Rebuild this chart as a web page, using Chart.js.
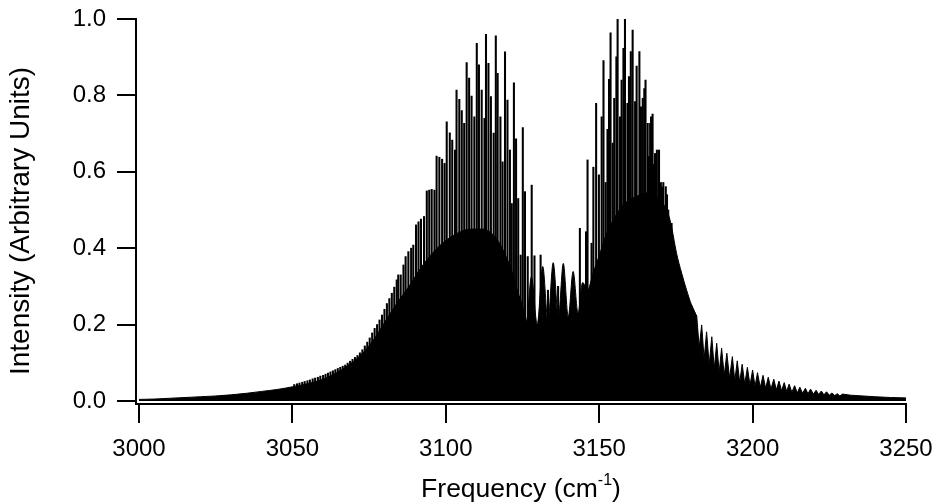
<!DOCTYPE html>
<html>
<head>
<meta charset="utf-8">
<script src="https://cdn.jsdelivr.net/npm/chart.js@4.4.1/dist/chart.umd.min.js"></script>
<style>
  html, body { margin: 0; padding: 0; background: #fff; }
</style>
</head>
<body>
<canvas id="spectrum" width="937" height="502"></canvas>
<script>
// --- Axis ticks ---
const xTicks = [3000, 3050, 3100, 3150, 3200, 3250];
const yTicks = [0.0, 0.2, 0.4, 0.6, 0.8, 1.0];

// --- Overlapped part of the band (solid black mass) ---
const massFreq = [3000, 3005, 3010, 3015, 3020, 3025, 3030, 3035, 3040, 3045, 3050, 3055, 3060, 3064, 3068, 3072, 3076, 3080, 3084, 3088,
  3092, 3096, 3100, 3104, 3108, 3112, 3116, 3119, 3121.5, 3123.5, 3125.0, 3126.3, 3127.9, 3129.8, 3131.6, 3133.3, 3135.0, 3136.7, 3138.3, 3139.9, 3141.5,
  3143.1, 3144.6, 3146.2, 3148.0, 3150.0, 3152.0, 3155.0, 3158.0, 3162.0, 3166.0, 3170.0, 3172.5, 3173.6, 3175.2, 3176.9, 3178.5, 3180.1, 3181.8];
const massInt = [0.004, 0.005, 0.007, 0.009, 0.011, 0.013, 0.016, 0.020, 0.025, 0.030, 0.037, 0.045, 0.057, 0.072, 0.092, 0.118, 0.155, 0.205, 0.255, 0.300,
  0.350, 0.390, 0.420, 0.440, 0.450, 0.450, 0.430, 0.390, 0.340, 0.285, 0.250, 0.210, 0.325, 0.200, 0.352, 0.210, 0.362, 0.220, 0.360, 0.220, 0.339,
  0.230, 0.310, 0.290, 0.335, 0.380, 0.430, 0.480, 0.515, 0.535, 0.545, 0.525, 0.490, 0.455, 0.387, 0.334, 0.290, 0.251, 0.221];

// --- Resolved lines of the high-frequency tail (peak / valley pairs) ---
const tailFreq = [3180.1, 3181.8, 3182.6, 3183.4, 3184.2, 3185.0, 3185.85, 3186.7, 3187.5, 3188.3, 3189.1, 3189.9, 3190.75, 3191.6, 3192.5, 3193.4, 3194.2,
  3195.0, 3195.8, 3196.6, 3197.45, 3198.3, 3199.15, 3200.0, 3200.8, 3201.6, 3202.5, 3203.4, 3204.25, 3205.1, 3206.0, 3206.9, 3207.75, 3208.6,
  3209.45, 3210.3, 3211.1, 3211.9, 3212.8, 3213.7, 3214.55, 3215.4, 3216.3, 3217.2, 3218.05, 3218.9, 3219.8, 3220.7, 3221.55, 3222.4, 3223.25,
  3224.1, 3225.0, 3225.9, 3226.75, 3227.6, 3228.45, 3229.3, 3232, 3236, 3240, 3245, 3250];
const tailInt = [0.251, 0.221, 0.140, 0.199, 0.110, 0.181, 0.095, 0.168, 0.085, 0.151, 0.075, 0.138, 0.067, 0.125, 0.060, 0.116, 0.053,
  0.105, 0.048, 0.096, 0.044, 0.088, 0.041, 0.081, 0.038, 0.074, 0.035, 0.067, 0.033, 0.062, 0.031, 0.057, 0.029, 0.052,
  0.027, 0.048, 0.025, 0.044, 0.023, 0.040, 0.021, 0.036, 0.020, 0.033, 0.019, 0.031, 0.018, 0.028, 0.017, 0.026, 0.016,
  0.024, 0.015, 0.021, 0.014, 0.019, 0.013, 0.018, 0.015, 0.013, 0.011, 0.009, 0.008];

// --- Individual rotational lines standing above the mass ---
const lineFreq = [
  3050.6, 3051.5, 3052.3, 3053.2, 3054.0, 3054.9,
  3055.7, 3056.6, 3057.4, 3058.3, 3059.1, 3060.0, 3060.8, 3061.6, 3062.4, 3063.2, 3064.0, 3064.8, 3065.6, 3066.4, 3067.2, 3068.0, 3068.8, 3069.6,
  3070.4, 3071.2, 3072.0, 3072.8, 3073.6, 3074.4, 3075.2, 3076.0, 3076.8, 3077.6, 3078.4, 3079.2, 3080.0, 3080.8, 3081.6, 3082.4, 3083.2,
  3084.0, 3084.5, 3085.3, 3086.2, 3086.9, 3087.8, 3088.7, 3089.4, 3090.3, 3091.1, 3091.9, 3092.9, 3093.8, 3094.6, 3095.4, 3096.3,
  3097.0, 3097.9, 3098.8, 3099.6, 3100.3, 3101.3, 3102.1, 3103.0, 3103.5, 3104.4, 3105.2, 3106.0, 3106.8, 3107.6, 3108.4, 3109.3,
  3110.1, 3110.8, 3111.7, 3112.6, 3113.1, 3113.9, 3114.7, 3115.6, 3116.3, 3116.9, 3117.8, 3118.5, 3119.3, 3120.1, 3120.9, 3121.5,
  3122.2, 3122.9, 3123.6, 3124.4, 3125.1, 3125.8, 3126.7, 3128.0, 3128.9, 3130.9, 3133.3, 3136.6,
  3143.7, 3145.7, 3146.2, 3147.5, 3148.1, 3149.0, 3149.9, 3150.8, 3151.4, 3152.1, 3152.7, 3153.2, 3153.7, 3154.4, 3154.9, 3155.6,
  3156.0, 3156.8, 3157.3, 3157.9, 3158.4, 3159.2, 3159.7, 3160.3, 3160.9, 3161.7, 3162.2, 3163.1, 3163.6, 3164.2, 3164.7, 3165.1,
  3165.8, 3166.2, 3166.6, 3166.9, 3167.4, 3167.8, 3168.2, 3168.8, 3169.5, 3170.1, 3170.5, 3170.9, 3171.7, 3172.1, 3172.5, 3173.6];
const lineInt = [
  0.043, 0.045, 0.047, 0.049, 0.051, 0.053,
  0.055, 0.058, 0.060, 0.062, 0.065, 0.067, 0.070, 0.073, 0.076, 0.079, 0.082, 0.085, 0.088, 0.091, 0.094, 0.099, 0.104, 0.109,
  0.114, 0.119, 0.126, 0.134, 0.144, 0.154, 0.165, 0.178, 0.190, 0.200, 0.212, 0.225, 0.240, 0.255, 0.268, 0.282, 0.298,
  0.317, 0.330, 0.330, 0.356, 0.378, 0.391, 0.400, 0.408, 0.461, 0.469, 0.476, 0.483, 0.550, 0.552, 0.554, 0.552,
  0.641, 0.638, 0.633, 0.622, 0.731, 0.702, 0.683, 0.657, 0.814, 0.790, 0.760, 0.727, 0.886, 0.845, 0.798, 0.744,
  0.936, 0.880, 0.814, 0.740, 0.960, 0.884, 0.797, 0.701, 0.956, 0.858, 0.744, 0.626, 0.914, 0.788, 0.657, 0.517,
  0.833, 0.686, 0.530, 0.382, 0.716, 0.548, 0.378, 0.565, 0.380, 0.382, 0.290, 0.300,
  0.452, 0.443, 0.631, 0.413, 0.612, 0.779, 0.592, 0.744, 0.891, 0.572, 0.711, 0.842, 0.964, 0.675, 0.792, 0.901,
  1.000, 0.744, 0.840, 0.923, 1.000, 0.779, 0.849, 0.915, 0.971, 0.784, 0.877, 0.915, 0.770, 0.792, 0.818, 0.840,
  0.727, 0.640, 0.727, 0.744, 0.751, 0.620, 0.648, 0.657, 0.657, 0.572, 0.560, 0.572, 0.561, 0.540, 0.500, 0.465];

const FONT = "'Liberation Sans', Arial, Helvetica, sans-serif";
const toXY = (xs, ys) => xs.map((x, i) => ({ x: x, y: ys[i] }));

// axis titles drawn by hand: the x title needs a superscript
const axisTitlePlugin = {
  id: 'axisTitles',
  afterDraw(chart) {
    const ctx = chart.ctx;
    const area = chart.chartArea;
    ctx.save();
    ctx.fillStyle = '#000';

    // y title, rotated
    ctx.save();
    ctx.translate(21, 221);
    ctx.rotate(-Math.PI / 2);
    ctx.font = '28px ' + FONT;
    ctx.textAlign = 'center';
    ctx.textBaseline = 'middle';
    ctx.fillText('Intensity (Arbitrary Units)', 0, 0);
    ctx.restore();

    // x title with superscript -1
    const main = 'Frequency (cm', sup = '-1', close = ')';
    const baseY = 497;
    ctx.textBaseline = 'alphabetic';
    ctx.textAlign = 'left';
    ctx.font = '26.5px ' + FONT;
    const w1 = ctx.measureText(main).width, w3 = ctx.measureText(close).width;
    ctx.font = '16px ' + FONT;
    const w2 = ctx.measureText(sup).width;
    let x = (area.left + area.right) / 2 - (w1 + w2 + w3) / 2;
    ctx.font = '26.5px ' + FONT;
    ctx.fillText(main, x, baseY);
    x += w1;
    ctx.font = '16px ' + FONT;
    ctx.fillText(sup, x, baseY - 12);
    x += w2;
    ctx.font = '26.5px ' + FONT;
    ctx.fillText(close, x, baseY);
    ctx.restore();
  }
};

const axisGrid = { offset: false, drawOnChartArea: false, drawTicks: true, tickLength: 19, tickWidth: 2, tickColor: '#000', color: '#000', lineWidth: 2 };

new Chart(document.getElementById('spectrum'), {
  type: 'line',
  data: {
    datasets: [
      {
        data: toXY(massFreq, massInt),
        borderColor: '#000', borderWidth: 1, backgroundColor: '#000',
        fill: 'origin', pointRadius: 0, cubicInterpolationMode: 'monotone'
      },
      {
        data: toXY(tailFreq, tailInt),
        borderColor: '#000', borderWidth: 1, backgroundColor: '#000',
        fill: 'origin', pointRadius: 0, tension: 0
      },
      {
        type: 'bar',
        data: toXY(lineFreq, lineInt),
        backgroundColor: '#000', borderWidth: 0, barThickness: 1.4
      }
    ]
  },
  options: {
    responsive: false,
    animation: false,
    devicePixelRatio: 1,
    layout: { padding: { top: 19, right: 31, bottom: 0, left: 0 } },
    plugins: { legend: { display: false }, tooltip: { enabled: false } },
    scales: {
      x: {
        type: 'linear', min: 2999.02, max: 3250, offset: false,
        afterBuildTicks: s => { s.ticks = xTicks.map(v => ({ value: v })); },
        afterFit: s => { s.height = 98; s.paddingLeft = 0; s.paddingRight = 0; },
        grid: axisGrid,
        border: { display: true, color: '#000', width: 2 },
        ticks: { color: '#000', font: { family: FONT, size: 24 }, padding: 12, maxRotation: 0, autoSkip: false,
          callback: v => String(v) }
      },
      y: {
        type: 'linear', min: -0.008, max: 1.0,
        afterBuildTicks: s => { s.ticks = yTicks.map(v => ({ value: v })); },
        afterFit: s => { s.width = 136; s.paddingTop = 0; s.paddingBottom = 0; },
        grid: axisGrid,
        border: { display: true, color: '#000', width: 2 },
        ticks: { color: '#000', font: { family: FONT, size: 24 }, padding: 11, autoSkip: false,
          callback: v => v.toFixed(1) }
      }
    }
  },
  plugins: [axisTitlePlugin]
});
</script>
</body>
</html>
